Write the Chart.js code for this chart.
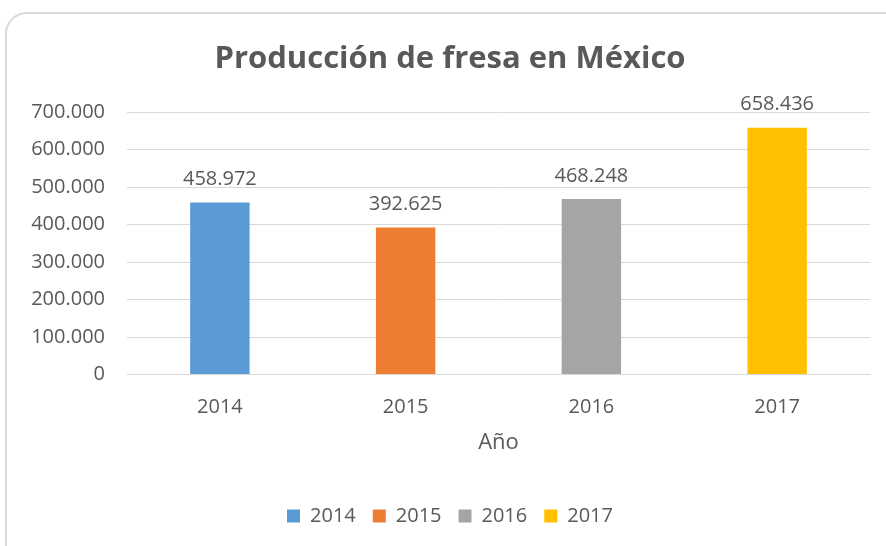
<!DOCTYPE html>
<html>
<head>
<meta charset="utf-8">
<script src="https://cdn.jsdelivr.net/npm/chart.js@4"></script>
<style>
  html, body { margin: 0; padding: 0; background: #ffffff; }
  #wrap { position: relative; width: 886px; height: 546px; overflow: hidden; }
  /* Excel chart area: rounded grey frame running off the right/bottom */
  #card { position: absolute; left: 5px; top: 12px; width: 920px; height: 580px;
          border: 2px solid #d9d9d9; border-radius: 22px; box-sizing: border-box; }
  #plot { position: absolute; left: 30px; top: 0; width: 856px; height: 546px; }
</style>
</head>
<body>
<div id="wrap">
  <div id="card"></div>
  <div id="plot"><canvas id="barchart"></canvas></div>
</div>
<script>
const years = ['2014', '2015', '2016', '2017'];
const production = [458972, 392625, 468248, 658436];
const barColors = ['#5b9bd5', '#ed7d31', '#a5a5a5', '#ffc000'];
const yTicksMax = 700000;
const yTicksStep = 100000;

const textColor = '#595959';
const gridColor = '#d9d9d9';
const fontFamily = "'Open Sans', 'Liberation Sans', sans-serif";

const fmt = function (v) {
    return String(Math.round(v)).replace(/\B(?=(\d{3})+(?!\d))/g, '.');
};

// value labels above bars
const valueLabels = {
    id: 'valueLabels',
    afterDatasetsDraw(chart) {
        const ctx = chart.ctx;
        ctx.save();
        ctx.fillStyle = textColor;
        ctx.font = "20px " + fontFamily;
        ctx.textAlign = 'center';
        ctx.textBaseline = 'bottom';
        chart.data.datasets.forEach(function (ds, i) {
            const meta = chart.getDatasetMeta(i);
            ds.data.forEach(function (v, j) {
                if (v === null) return;
                const el = meta.data[j];
                ctx.fillText(fmt(v), el.x, el.y - 13);
            });
        });
        ctx.restore();
    }
};

const datasets = years.map(function (y, i) {
    return {
        label: y,
        data: years.map(function (_, j) { return j === i ? production[i] : null; }),
        backgroundColor: barColors[i],
        borderWidth: 0,
        grouped: false,
        barPercentage: 0.32,
        categoryPercentage: 1
    };
});

new Chart(document.getElementById('barchart'), {
    type: 'bar',
    data: { labels: years, datasets: datasets },
    plugins: [valueLabels],
    options: {
        responsive: true,
        maintainAspectRatio: false,
        animation: false,
        layout: { padding: { left: 0, right: 16, top: 41, bottom: 10 } },
        plugins: {
            title: {
                display: true,
                text: 'Producción de fresa en México',
                color: textColor,
                font: { family: fontFamily, size: 31, weight: 'bold' },
                padding: { top: 0, bottom: 34 }
            },
            legend: {
                position: 'bottom',
                labels: {
                    color: textColor,
                    font: { family: fontFamily, size: 20 },
                    boxWidth: 13,
                    boxHeight: 13,
                    padding: 17
                }
            },
            tooltip: { enabled: false }
        },
        scales: {
            x: {
                grid: { display: false },
                border: { color: gridColor },
                ticks: { color: textColor, font: { family: fontFamily, size: 20 }, padding: 13 },
                title: {
                    display: true,
                    text: 'Año',
                    color: textColor,
                    font: { family: fontFamily, size: 22 },
                    padding: { top: -3, bottom: 33 }
                }
            },
            y: {
                min: 0,
                max: yTicksMax,
                border: { display: false },
                grid: { color: gridColor, drawTicks: false },
                afterFit: function (scale) { scale.width = 97; },
                ticks: {
                    stepSize: yTicksStep,
                    color: textColor,
                    font: { family: fontFamily, size: 20 },
                    padding: 22,
                    callback: function (v) { return fmt(v); }
                }
            }
        }
    }
});
</script>
</body>
</html>
